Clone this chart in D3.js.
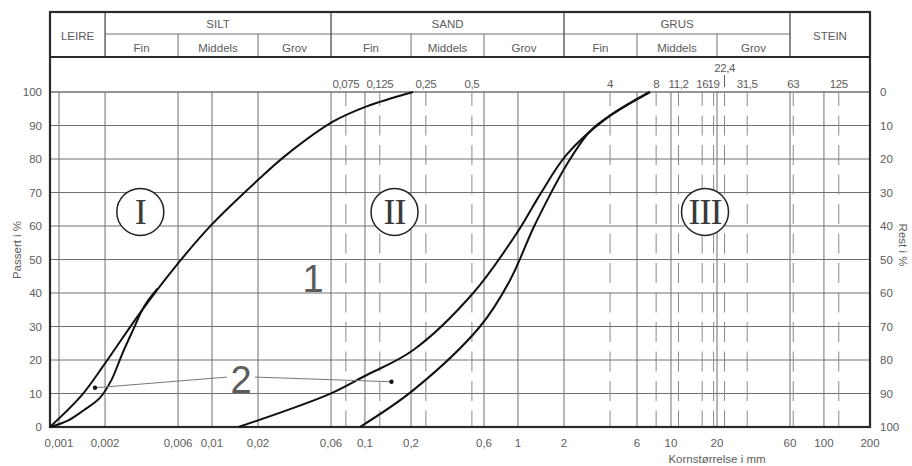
<!DOCTYPE html>
<html>
<head>
<meta charset="utf-8">
<script src="https://cdn.jsdelivr.net/npm/d3@7"></script>
<style>
  html, body { margin: 0; padding: 0; background: #fff; }
  svg { display: block; }
  text { font-family: 'Liberation Sans Narrow', 'Liberation Sans', Arial, sans-serif; }
</style>
</head>
<body>
<svg id="chart" width="912" height="466"></svg>
<script>
// ---------------- DATA ----------------
const yTicks = [0, 10, 20, 30, 40, 50, 60, 70, 80, 90, 100];
const xTicks = [0.001, 0.002, 0.006, 0.01, 0.02, 0.06, 0.1, 0.2, 0.6, 1, 2, 6, 10, 20, 60, 100, 200];
const gridSolid = [0.001, 0.002, 0.006, 0.01, 0.02, 0.06, 0.1, 0.2, 0.6, 1, 2, 6, 10, 20, 60, 100];
const sieves = [0.075, 0.125, 0.25, 0.5, 4, 8, 11.2, 16, 19, 22.4, 31.5, 63, 125];
const sieveRaised = [22.4];
const mainClasses = [
  { name: "LEIRE", from: null, to: 0.002 },
  { name: "SILT", from: 0.002, to: 0.06 },
  { name: "SAND", from: 0.06, to: 2 },
  { name: "GRUS", from: 2, to: 60 },
  { name: "STEIN", from: 60, to: null }
];
const subClasses = [
  { name: "Fin", from: 0.002, to: 0.006 },
  { name: "Middels", from: 0.006, to: 0.02 },
  { name: "Grov", from: 0.02, to: 0.06 },
  { name: "Fin", from: 0.06, to: 0.2 },
  { name: "Middels", from: 0.2, to: 0.6 },
  { name: "Grov", from: 0.6, to: 2 },
  { name: "Fin", from: 2, to: 6 },
  { name: "Middels", from: 6, to: 20 },
  { name: "Grov", from: 20, to: 60 }
];
// grading curves: [grain size mm, passing %]
const curveA = [[0.000873, 0], [0.00141, 9.5], [0.002, 19], [0.00338, 34], [0.00556, 47], [0.00995, 60.4], [0.0206, 74.3], [0.0308, 81.3], [0.0621, 91.2], [0.1026, 95.7], [0.206, 100]];
const curveB = [[0.000873, 0], [0.00115, 2], [0.00145, 5], [0.00185, 8.7], [0.0022, 14], [0.0026, 22], [0.00305, 29], [0.0036, 36], [0.0044, 41.3]];
const curveC = [[0.0149, 0], [0.059, 9.9], [0.0975, 15], [0.207, 23], [0.51, 40], [1.0, 58.4], [1.39, 69.3], [2.08, 81.3], [3.8, 92.2], [7.29, 100]];
const curveD = [[0.0927, 0], [0.207, 11], [0.565, 30], [0.88, 43.5], [1.26, 59.4], [1.62, 69.3], [2.08, 78.3], [2.96, 88.3], [4.2, 93.6], [7.29, 100]];
const zones = [
  { label: "I", x: 0.0034, y: 64.2 },
  { label: "II", x: 0.156, y: 64.2 },
  { label: "III", x: 16.7, y: 64.2 }
];
const markOne = { label: "1", x: 0.0457, y: 40.3 };
const markTwo = { label: "2", x: 0.0155, y: 10.1 };
const markTwoLeaders = [
  { from: [0.01253, 14.9], to: [0.00172, 11.7] },
  { from: [0.0191, 14.9], to: [0.149, 13.5] }
];
const yTitleLeft = "Passert i %";
const yTitleRight = "Rest i %";
const xTitle = "Kornstørrelse i mm";

// ---------------- LAYOUT ----------------
const svg = d3.select("#chart");
const F = { left: 50, right: 870, top: 12, bottom: 427, row1: 34, row2: 57, plotTop: 92 };
const x = d3.scaleLog().domain([0.001, 200]).range([59, 870]);
const y = d3.scaleLinear().domain([0, 100]).range([F.bottom, F.plotTop]);
const yr = d3.scaleLinear().domain([0, 100]).range([F.plotTop, F.bottom]);
const fmt = v => String(v).replace(".", ",");
const GRID = "#707070", TXT = "#5c5c5c", DARK = "#2a2a2a";
const FS = 11.5;

// horizontal grid
svg.append("g").selectAll("line").data(yTicks).join("line")
  .attr("x1", F.left).attr("x2", F.right)
  .attr("y1", d => y(d)).attr("y2", d => y(d))
  .attr("stroke", GRID).attr("stroke-width", d => d === 100 ? 1.6 : 1);

// solid verticals
svg.append("g").selectAll("line").data(gridSolid).join("line")
  .attr("x1", d => x(d)).attr("x2", d => x(d))
  .attr("y1", F.plotTop).attr("y2", F.bottom)
  .attr("stroke", GRID).attr("stroke-width", 1);

// dashed sieve lines
svg.append("g").selectAll("line").data(sieves).join("line")
  .attr("x1", d => x(d)).attr("x2", d => x(d))
  .attr("y1", F.plotTop).attr("y2", F.bottom)
  .attr("stroke", "#8a8a8a").attr("stroke-width", 1)
  .attr("stroke-dasharray", "20,9.5").attr("stroke-dashoffset", 6);

// sieve labels
svg.append("g").selectAll("text").data(sieves).join("text")
  .attr("x", d => x(d)).attr("y", d => sieveRaised.includes(d) ? 72 : 87.5)
  .attr("text-anchor", "middle").attr("font-size", FS).attr("fill", TXT)
  .attr("letter-spacing", -0.4)
  .text(fmt);
svg.append("g").selectAll("line").data(sieveRaised).join("line")
  .attr("x1", d => x(d)).attr("x2", d => x(d)).attr("y1", 75).attr("y2", 87)
  .attr("stroke", TXT).attr("stroke-width", 1);

// header frame
const hdr = svg.append("g");
hdr.append("line").attr("x1", x(0.002)).attr("x2", x(60)).attr("y1", F.row1).attr("y2", F.row1)
  .attr("stroke", GRID).attr("stroke-width", 1);
hdr.selectAll("line.sub").data(subClasses.filter(d => ![0.002, 0.06, 2].includes(d.from))).join("line")
  .attr("class", "sub")
  .attr("x1", d => x(d.from)).attr("x2", d => x(d.from)).attr("y1", F.row1).attr("y2", F.row2)
  .attr("stroke", GRID).attr("stroke-width", 1);
hdr.selectAll("line.main").data(mainClasses.slice(1)).join("line")
  .attr("class", "main")
  .attr("x1", d => x(d.from)).attr("x2", d => x(d.from)).attr("y1", F.top).attr("y2", F.row2)
  .attr("stroke", "#4a4a4a").attr("stroke-width", 1.3);
hdr.append("line").attr("x1", F.left).attr("x2", F.right).attr("y1", F.row2).attr("y2", F.row2)
  .attr("stroke", DARK).attr("stroke-width", 2);

hdr.selectAll("text.main").data(mainClasses).join("text")
  .attr("class", "main")
  .attr("x", d => ((d.from == null ? F.left : x(d.from)) + (d.to == null ? F.right : x(d.to))) / 2)
  .attr("y", d => (d.from == null || d.to == null) ? 39.5 : 28.3)
  .attr("text-anchor", "middle").attr("font-size", FS).attr("fill", TXT)
  .text(d => d.name);
hdr.selectAll("text.sub").data(subClasses).join("text")
  .attr("class", "sub")
  .attr("x", d => (x(d.from) + x(d.to)) / 2).attr("y", 51.5)
  .attr("text-anchor", "middle").attr("font-size", FS).attr("fill", TXT)
  .text(d => d.name);

// outer frame
svg.append("rect").attr("x", F.left).attr("y", F.top)
  .attr("width", F.right - F.left).attr("height", F.bottom - F.top)
  .attr("fill", "none").attr("stroke", DARK).attr("stroke-width", 2.2);

// axis labels
svg.append("g").selectAll("text").data(yTicks).join("text")
  .attr("x", 42).attr("y", d => y(d)).attr("dy", "0.35em")
  .attr("text-anchor", "end").attr("font-size", FS).attr("fill", TXT).text(d => d);
svg.append("g").selectAll("text").data(yTicks).join("text")
  .attr("x", 880).attr("y", d => yr(d)).attr("dy", "0.35em")
  .attr("text-anchor", "start").attr("font-size", FS).attr("fill", TXT).text(d => d);
svg.append("g").selectAll("text").data(xTicks).join("text")
  .attr("x", d => x(d)).attr("y", 447)
  .attr("text-anchor", "middle").attr("font-size", FS).attr("fill", TXT).text(fmt);

svg.append("text").attr("transform", "translate(21,250) rotate(-90)")
  .attr("text-anchor", "middle").attr("font-size", FS).attr("fill", TXT).text(yTitleLeft);
svg.append("text").attr("transform", "translate(899,245) rotate(90)")
  .attr("text-anchor", "middle").attr("font-size", FS).attr("fill", TXT).text(yTitleRight);
svg.append("text").attr("x", 717).attr("y", 463)
  .attr("text-anchor", "middle").attr("font-size", FS).attr("fill", TXT).text(xTitle);

// curves
const line = d3.line().x(d => x(d[0])).y(d => y(d[1])).curve(d3.curveCatmullRom.alpha(0.5));
svg.append("g").selectAll("path").data([curveA, curveB, curveC, curveD]).join("path")
  .attr("d", line).attr("fill", "none").attr("stroke", "#111").attr("stroke-width", 2)
  .attr("stroke-linejoin", "round");

// zone circles
const z = svg.append("g").selectAll("g").data(zones).join("g")
  .attr("transform", d => `translate(${x(d.x)},${y(d.y)})`);
z.append("circle").attr("r", 23.5).attr("fill", "#fff").attr("stroke", "#222").attr("stroke-width", 1.5);
z.append("text").attr("y", 12).attr("text-anchor", "middle")
  .style("font-family", "'Liberation Serif','DejaVu Serif',serif")
  .attr("font-size", 36).attr("letter-spacing", -1).attr("fill", "#3a3a3a").text(d => d.label);

// marks 1 and 2
svg.append("text").attr("x", x(markOne.x)).attr("y", y(markOne.y))
  .attr("text-anchor", "middle").attr("font-size", 38).attr("fill", TXT).text(markOne.label);
svg.append("text").attr("x", x(markTwo.x)).attr("y", y(markTwo.y))
  .attr("text-anchor", "middle").attr("font-size", 38).attr("fill", TXT).text(markTwo.label);
svg.append("g").selectAll("line").data(markTwoLeaders).join("line")
  .attr("x1", d => x(d.from[0])).attr("y1", d => y(d.from[1]))
  .attr("x2", d => x(d.to[0])).attr("y2", d => y(d.to[1]))
  .attr("stroke", "#777").attr("stroke-width", 1);
svg.append("g").selectAll("circle").data(markTwoLeaders).join("circle")
  .attr("cx", d => x(d.to[0])).attr("cy", d => y(d.to[1])).attr("r", 2.2).attr("fill", "#111");
</script>
</body>
</html>
